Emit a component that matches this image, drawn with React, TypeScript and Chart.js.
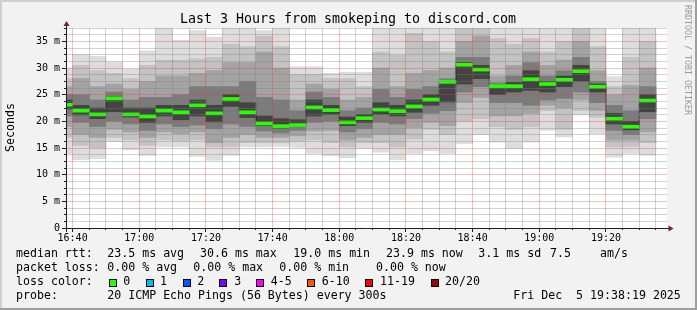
import React, { useEffect, useRef } from 'react';
import { Chart, registerables } from 'chart.js';

Chart.register(...registerables);

// ---- data ----
const windowStart = '16:38:19';
const windowEnd = '19:38:19';
const intervalEnds = ['16:40','16:45','16:50','16:55','17:00','17:05','17:10','17:15','17:20','17:25','17:30','17:35','17:40','17:45','17:50','17:55','18:00','18:05','18:10','18:15','18:20','18:25','18:30','18:35','18:40','18:45','18:50','18:55','19:00','19:05','19:10','19:15','19:20','19:25','19:30','19:35'];
const medianRtt = [23.1,22.0,21.3,24.3,21.3,20.9,22.0,21.7,23.0,21.5,24.2,21.7,19.6,19.1,19.3,22.6,22.1,19.8,20.6,22.2,21.9,22.8,24.1,27.4,30.6,29.7,26.6,26.6,27.9,27.0,27.8,29.4,26.5,20.5,19.0,23.9];
const pingMax = [30,32.5,32.2,31.1,29.8,33.2,38,35.2,37,35.8,38,38,37,38,30.2,30.2,29,29.2,29.2,38,38,38,38,38,40,40,38,38,38,38,38,40,38,28.4,38,38];
const pingHi2 = [28,30.5,29.5,29,28,30.5,31.5,31.5,31.7,32,34.5,34,36,34,28.8,28.8,28,28,26.5,33,32.4,36.5,35,33,38.5,39,35.5,34.5,35.5,33,35,38.5,34,26.5,32,35];
const pingHi3 = [26.5,28,26.5,27,26,27.5,28.5,28.5,29,29.5,31,31,33,30,24,27,26,24,24.5,30,26.5,29,29.5,30,35,36,28.5,30.5,33,30.5,31.5,35,29.5,25,26.7,30];
const pingHi4 = [25,25,24,25.5,24,24.5,24.5,25,26.5,26.5,26.5,27.5,24.5,24,22,25.5,24.5,22,22.5,26,24.5,26,26.5,28,32,32,27.2,28.5,31,28.5,29.5,32,27.5,23,22,26.5];
const pingHi5 = [24,23,22.5,24.6,22.5,22.5,23,23,24,23,25,23.5,21,20.5,20.3,24,23,20.8,21.3,23.5,23,24,25,27.6,31,30.5,26.8,27.3,29.5,27.5,28.5,30.5,27,21.5,20,25];
const pingLo5 = [22.3,21.2,20.5,21.8,20.8,19.8,21,20.3,21,19.9,22.8,20.7,19.2,18.7,19,21,21.3,19.2,19.8,21.3,21,21.7,23,23.6,27,28,25,25.5,25.8,25.5,26.5,27.5,25.5,19.5,18.4,21.8];
const pingLo4 = [21,19.8,19,20,19.5,18.3,19.5,19,19.3,18.6,19.5,19,18.2,17.8,18.3,19.8,20,18,18.6,19.8,19.5,20.5,21.5,22,25.5,26.5,23.5,23.5,23,24,24.3,25.5,23.5,18.3,17.5,20.5];
const pingLo3 = [19,17.5,17,18.5,18,17,18,17.7,18,16,17,17.5,17,17,17.3,18.2,18.3,16.5,17,17.5,17.5,18.8,19.8,19.2,23.5,24.5,21,21,21.5,23,22.5,24,22,16.5,16.5,18];
const pingLo2 = [17,15.5,15,17,16.5,15.5,16.5,16.3,16.5,15.2,15.3,16,16,16,16.3,16.5,16,15.2,16,16,15.2,16.7,18.5,17.5,20,20.5,19,18.5,19,22,18.5,22,20.8,15.2,15.3,16];
const pingMin = [14,12.8,13,16.2,14.7,13.6,15.2,15.2,13.4,12.7,13.6,15.2,15.2,15.3,15.1,14,13.5,13.2,14.9,14.2,12.8,14,14.5,14,15.8,17.5,16.1,14.9,16.1,18.3,17.1,21.2,17.7,13.3,14,13.6];
const xTickLabels = ['16:40','17:00','17:20','17:40','18:00','18:20','18:40','19:00','19:20'];
const yTickLabels = ['0','5 m','10 m','15 m','20 m','25 m','30 m','35 m'];
const yMax = 37.5;
const title = 'Last 3 Hours from smokeping to discord.com';
const legendRtt = [['median rtt:', 16], ['23.5 ms avg', 107.3], ['30.6 ms max', 200], ['19.0 ms min', 293.3], ['23.9 ms now', 386], ['3.1 ms sd', 478.3], ['7.5', 550], ['am/s', 600]];
const legendLoss = [['packet loss:', 16], ['0.00 % avg', 107.3], ['0.00 % max', 193.3], ['0.00 % min', 279.3], ['0.00 % now', 376]];
const lossLabels = ['0', '1', '2', '3', '4-5', '6-10', '11-19', '20/20'];
const lossColors = ['#26ff00', '#00b8ff', '#0059ff', '#7e00ff', '#ff00ff', '#ff5500', '#ff0000', '#a10000'];
const lossBoxX = [109, 146, 183, 219, 256, 307, 365, 431];
const lossTextX = [123.3, 160, 197.3, 234.3, 270.7, 321.7, 380, 445];
const probeLine = [['probe:', 16], ['20 ICMP Echo Pings (56 Bytes) every 300s', 107.3], ['Fri Dec  5 19:38:19 2025', 513.3]];

// ---- styles ----
const MONO = '"DejaVu Sans Mono"';
const SMOKE = ['#dddddd', '#c3c3c3', '#a3a3a3', '#7b7b7b', '#434343'];
const GRID_MINOR = 'rgba(130,130,130,0.36)';
const GRID_MAJOR = 'rgba(225,60,60,0.32)';
const AXIS = '#1f1f1f';
const ARROW = '#7f1f1f';

const toMin = (s: string) => {
  const p = s.split(':').map(Number);
  return p[0] * 60 + p[1] + (p[2] || 0) / 60;
};
const START = toMin(windowStart);
const END = toMin(windowEnd);
const centers = intervalEnds.map((t) => toMin(t) - 2.5);
const xTickValues: number[] = [];
for (let v = toMin(intervalEnds[0]); v <= toMin(intervalEnds[intervalEnds.length - 1]) + 0.01; v += 5) xTickValues.push(v);
const xMajor = new Map(xTickLabels.map((l) => [toMin(l), l]));
const yTickValues: number[] = [];
for (let v = 0; v <= yMax + 0.001; v += 1.25) yTickValues.push(v);

const band = (lo: number[], hi: number[]) => centers.map((x, i) => ({ x, y: [lo[i], hi[i]] }));
const barCommon = { type: 'bar', grouped: false, barPercentage: 1, categoryPercentage: 1, borderWidth: 0, clip: 0 };

const rrdPlugin = {
  id: 'rrd',
  beforeDraw(chart: any) {
    const { ctx, chartArea: a, width, height } = chart;
    ctx.save();
    ctx.fillStyle = '#f2f2f2';
    ctx.fillRect(0, 0, width, height);
    ctx.fillStyle = '#cfcfcf';
    ctx.fillRect(0, 0, width, 2);
    ctx.fillRect(0, 0, 2, height);
    ctx.fillStyle = '#9e9e9e';
    ctx.fillRect(0, height - 2, width, 2);
    ctx.fillRect(width - 2, 0, 2, height);
    ctx.fillStyle = '#ffffff';
    ctx.fillRect(a.left, a.top, a.right - a.left, a.bottom - a.top);
    ctx.restore();
  },
  afterDatasetsDraw(chart: any) {
    const { ctx, chartArea: a, scales } = chart;
    const xs = scales.x;
    const ys = scales.y;
    const top = Math.round(a.top);
    const bottom = Math.round(a.bottom);
    const left = Math.round(a.left);
    const right = Math.round(a.right);
    ctx.save();
    const vLine = (v: number, color: string) => {
      const px = Math.floor(xs.getPixelForValue(v));
      ctx.fillStyle = color;
      ctx.fillRect(px, top, 1, bottom - top);
    };
    const hLine = (v: number, color: string) => {
      const py = Math.floor(ys.getPixelForValue(v));
      ctx.fillStyle = color;
      ctx.fillRect(left, py, right - left, 1);
    };
    yTickValues.forEach((v) => { if (v > 0 && v % 5 !== 0) hLine(v, GRID_MINOR); });
    xTickValues.forEach((v) => { if (!xMajor.has(v)) vLine(v, GRID_MINOR); });
    yTickValues.forEach((v) => { if (v > 0 && v % 5 === 0) hLine(v, GRID_MAJOR); });
    xTickValues.forEach((v) => { if (xMajor.has(v)) vLine(v, GRID_MAJOR); });
    // tick marks
    ctx.fillStyle = AXIS;
    xTickValues.forEach((v) => {
      const px = Math.floor(xs.getPixelForValue(v));
      ctx.fillRect(px, bottom, 1, xMajor.has(v) ? 4 : 2);
    });
    yTickValues.forEach((v) => {
      const py = Math.floor(ys.getPixelForValue(v));
      const len = v % 5 === 0 ? 4 : 2;
      ctx.fillRect(left - 1 - len, py, len, 1);
    });
    ctx.restore();
  },
  afterDraw(chart: any) {
    const { ctx, chartArea: a } = chart;
    ctx.save();
    // axes
    ctx.strokeStyle = AXIS;
    ctx.lineWidth = 1;
    ctx.setLineDash([]);
    ctx.beginPath();
    ctx.moveTo(a.left - 4, a.bottom + 0.5);
    ctx.lineTo(a.right + 3, a.bottom + 0.5);
    ctx.moveTo(a.left - 0.5, a.bottom + 4);
    ctx.lineTo(a.left - 0.5, a.top - 3);
    ctx.stroke();
    ctx.fillStyle = ARROW;
    ctx.beginPath();
    ctx.moveTo(a.left - 0.5, a.top - 7);
    ctx.lineTo(a.left - 3.5, a.top - 2);
    ctx.lineTo(a.left + 2.5, a.top - 2);
    ctx.closePath();
    ctx.fill();
    ctx.beginPath();
    ctx.moveTo(a.right + 6.5, a.bottom + 0.5);
    ctx.lineTo(a.right + 1.5, a.bottom - 2.5);
    ctx.lineTo(a.right + 1.5, a.bottom + 3.5);
    ctx.closePath();
    ctx.fill();

    // title
    ctx.fillStyle = '#000';
    ctx.textBaseline = 'middle';
    ctx.textAlign = 'center';
    ctx.font = `13.3px ${MONO}`;
    ctx.fillText(title, 348, 19.5);

    // y title
    ctx.save();
    ctx.translate(11, 127.5);
    ctx.rotate(-Math.PI / 2);
    ctx.font = `11.6px ${MONO}`;
    ctx.fillText('Seconds', 0, 0);
    ctx.restore();

    // watermark
    ctx.save();
    ctx.translate(687, 60);
    ctx.rotate(Math.PI / 2);
    ctx.fillStyle = '#9a9a9a';
    ctx.font = `8.3px ${MONO}`;
    ctx.fillText('RRDTOOL / TOBI OETIKER', 0, 0);
    ctx.restore();

    // legend
    ctx.textAlign = 'left';
    ctx.font = `11.6px ${MONO}`;
    ctx.fillStyle = '#000';
    legendRtt.forEach(([t, x]) => ctx.fillText(t as string, x as number, 254.3));
    legendLoss.forEach(([t, x]) => ctx.fillText(t as string, x as number, 268.3));
    ctx.fillText('loss color:', 16, 282.3);
    lossLabels.forEach((l, i) => {
      ctx.fillStyle = lossColors[i];
      ctx.fillRect(lossBoxX[i], 279, 8, 8);
      ctx.strokeStyle = '#000';
      ctx.strokeRect(lossBoxX[i] + 0.5, 279.5, 7, 7);
      ctx.fillStyle = '#000';
      ctx.fillText(l, lossTextX[i], 282.3);
    });
    probeLine.forEach(([t, x]) => ctx.fillText(t as string, x as number, 295.7));
    ctx.restore();
  },
};

export default function App() {
  const ref = useRef<HTMLCanvasElement>(null);
  useEffect(() => {
    const canvas = ref.current;
    if (!canvas) return;
    const chart = new Chart(canvas, {
      type: 'bar',
      data: {
        datasets: [
          { ...barCommon, label: 'median', data: centers.map((x, i) => ({ x, y: [medianRtt[i] - 0.28, medianRtt[i] + 0.28] })), backgroundColor: lossColors[0] },
          { type: 'line', label: 'step', data: centers.map((x, i) => ({ x, y: medianRtt[i] })), stepped: 'middle', borderColor: '#000', borderWidth: 1, borderDash: [1, 1], pointRadius: 0, clip: 0 },
          { ...barCommon, label: 's5', data: band(pingLo5, pingHi5), backgroundColor: SMOKE[4] },
          { ...barCommon, label: 's4', data: band(pingLo4, pingHi4), backgroundColor: SMOKE[3] },
          { ...barCommon, label: 's3', data: band(pingLo3, pingHi3), backgroundColor: SMOKE[2] },
          { ...barCommon, label: 's2', data: band(pingLo2, pingHi2), backgroundColor: SMOKE[1] },
          { ...barCommon, label: 's1', data: band(pingMin, pingMax), backgroundColor: SMOKE[0] },
        ] as any,
      },
      options: {
        responsive: false,
        devicePixelRatio: 1,
        animation: false,
        events: [],
        layout: { padding: { left: 0, top: 28, right: 30, bottom: 62 } },
        plugins: { legend: { display: false }, title: { display: false }, tooltip: { enabled: false } },
        scales: {
          x: {
            type: 'linear',
            min: START,
            max: END,
            offset: false,
            afterBuildTicks: (s: any) => { s.ticks = xTickValues.map((v) => ({ value: v })); },
            afterFit: (s: any) => { s.height = 20; },
            grid: { display: false, drawTicks: false, offset: false },
            border: { display: false },
            ticks: {
              autoSkip: false,
              maxRotation: 0,
              minRotation: 0,
              padding: 4,
              color: '#000',
              font: { family: 'DejaVu Sans Mono', size: 10 },
              callback: (v: any) => xMajor.get(v) || '',
            },
          },
          y: {
            type: 'linear',
            min: 0,
            max: yMax,
            afterBuildTicks: (s: any) => { s.ticks = yTickValues.map((v) => ({ value: v })); },
            afterFit: (s: any) => { s.width = 67; },
            grid: { display: false, drawTicks: false },
            border: { display: false },
            ticks: {
              autoSkip: false,
              padding: 7,
              color: '#000',
              font: { family: 'DejaVu Sans Mono', size: 10 },
              callback: (v: any) => (v % 5 === 0 ? yTickLabels[v / 5] : ''),
            },
          },
        },
      } as any,
      plugins: [rrdPlugin],
    });
    return () => chart.destroy();
  }, []);
  return (
    <div style={{ position: 'absolute', left: 0, top: 0, width: 697, height: 310 }}>
      <canvas ref={ref} width={697} height={310} style={{ display: 'block', width: 697, height: 310 }} />
    </div>
  );
}
